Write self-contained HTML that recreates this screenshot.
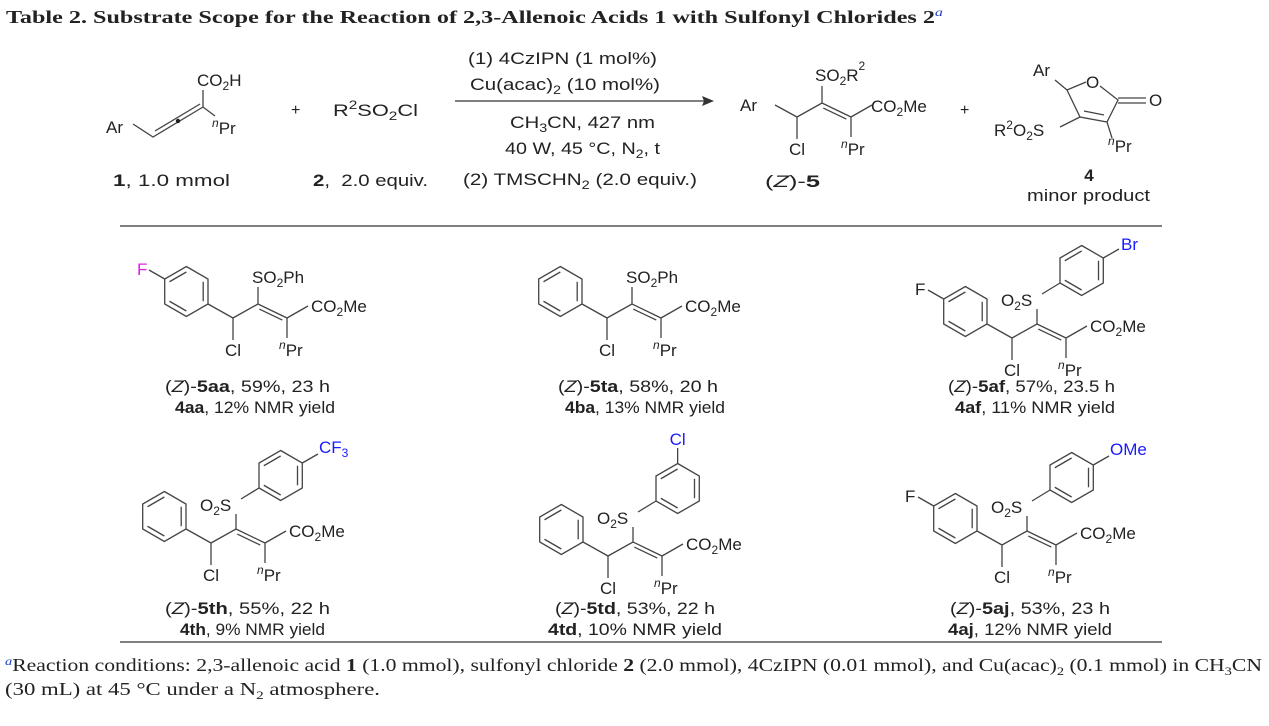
<!DOCTYPE html>
<html><head><meta charset="utf-8"><style>
html,body{margin:0;padding:0;background:#fff;}
svg{display:block;}
text{font-family:"Liberation Sans",sans-serif;font-size:16px;fill:#222;}
.c{font-size:17px;}
.s{stroke:#444;stroke-width:1.3;fill:none;}
.serif{font-family:"Liberation Serif",serif;}
</style></head><body>
<svg width="1269" height="726" viewBox="0 0 1269 726" xmlns="http://www.w3.org/2000/svg">
<text class="serif" x="6" y="23" textLength="937" lengthAdjust="spacingAndGlyphs" style="font-size:18px;font-weight:bold">Table 2. Substrate Scope for the Reaction of 2,3-Allenoic Acids 1 with Sulfonyl Chlorides 2<tspan dy="-7" font-size="12" font-style="italic" font-weight="normal" fill="#2040c0">a</tspan></text>

<!-- allene 1 -->
<path class="s" d="M133,124L153,137L203,107 M155,131L200,104 M203,107V90 M203,107L215,116"/>
<circle cx="178" cy="121" r="2.2" fill="#222"/>
<text x="106" y="133" class="c">Ar</text>
<text x="197" y="86" class="c">CO<tspan font-size="12" dy="4">2</tspan><tspan dy="-4">H</tspan></text>
<text x="212" y="134" class="c"><tspan font-size="12" font-style="italic" dy="-7">n</tspan><tspan dy="7">Pr</tspan></text>
<text x="291" y="115">+</text>
<text x="333" y="116" class="c" textLength="85" lengthAdjust="spacingAndGlyphs">R<tspan font-size="12" dy="-7">2</tspan><tspan dy="7">SO</tspan><tspan font-size="12" dy="4">2</tspan><tspan dy="-4">Cl</tspan></text>
<text x="113" y="186" class="c" textLength="117" lengthAdjust="spacingAndGlyphs"><tspan font-weight="bold">1</tspan>, 1.0 mmol</text>
<text x="313" y="186" class="c" textLength="115" lengthAdjust="spacingAndGlyphs"><tspan font-weight="bold">2</tspan>, &#160;2.0 equiv.</text>

<!-- arrow -->
<line x1="455" y1="101" x2="708" y2="101" stroke="#333" stroke-width="1.3"/>
<path d="M714,101L702,96L704,101L702,106Z" fill="#333"/>
<text x="468" y="64" class="c" textLength="189" lengthAdjust="spacingAndGlyphs">(1) 4CzIPN (1 mol%)</text>
<text x="470" y="90" class="c" textLength="190" lengthAdjust="spacingAndGlyphs">Cu(acac)<tspan font-size="12" dy="4">2</tspan><tspan dy="-4"> (10 mol%)</tspan></text>
<text x="510" y="128" class="c" textLength="145" lengthAdjust="spacingAndGlyphs">CH<tspan font-size="12" dy="4">3</tspan><tspan dy="-4">CN, 427 nm</tspan></text>
<text x="505" y="154" class="c" textLength="155" lengthAdjust="spacingAndGlyphs">40 W, 45 °C, N<tspan font-size="12" dy="4">2</tspan><tspan dy="-4">, t</tspan></text>
<text x="463" y="185" class="c" textLength="234" lengthAdjust="spacingAndGlyphs">(2) TMSCHN<tspan font-size="12" dy="4">2</tspan><tspan dy="-4"> (2.0 equiv.)</tspan></text>

<!-- product 5 -->
<g transform="translate(797,117)">
<path class="s" d="M0,0V22 M0,0L25,-14L54,0 M26.3,-8.9L49.3,2.1 M54,0V20 M54,0L75,-12 M25,-14V-31 M0,0L-22,-12"/>
<text x="-57" y="-6" class="c">Ar</text>
<text x="-8" y="38" class="c">Cl</text>
<text x="44" y="38" class="c"><tspan font-size="12" font-style="italic" dy="-7">n</tspan><tspan dy="7">Pr</tspan></text>
<text x="74" y="-5" class="c">CO<tspan font-size="12" dy="4">2</tspan><tspan dy="-4">Me</tspan></text>
<text x="18" y="-36" class="c">SO<tspan font-size="12" dy="4">2</tspan><tspan dy="-4">R</tspan><tspan font-size="12" dy="-11">2</tspan></text>
</g>
<text x="765" y="187" class="c" textLength="55" lengthAdjust="spacingAndGlyphs">(<tspan font-style="italic">Z</tspan>)-<tspan font-weight="bold">5</tspan></text>
<text x="960" y="115">+</text>

<!-- furanone 4 -->
<path class="s" d="M1055,80L1067,90L1086,82 M1100,86L1118,100L1107,122L1080,117L1067,90 M1084,111L1104,115 M1118,98H1146 M1118,103H1146 M1107,122L1112,138 M1080,117L1060,127"/>
<text x="1033" y="76" class="c">Ar</text>
<text x="1086" y="88" class="c">O</text>
<text x="1149" y="106" class="c">O</text>
<text x="994" y="136" class="c">R<tspan font-size="12" dy="-7">2</tspan><tspan dy="7">O</tspan><tspan font-size="12" dy="4">2</tspan><tspan dy="-4">S</tspan></text>
<text x="1108" y="152" class="c"><tspan font-size="12" font-style="italic" dy="-7">n</tspan><tspan dy="7">Pr</tspan></text>
<text x="1089" y="181" text-anchor="middle" font-weight="bold" class="c">4</text>
<text x="1027" y="201" class="c" textLength="123" lengthAdjust="spacingAndGlyphs">minor product</text>

<line x1="120" y1="226" x2="1162" y2="226" stroke="#333" stroke-width="1.2"/>

<!-- 5aa -->
<g transform="translate(233,318)">
<path class="s" d="M0,0V22 M0,0L25,-14L54,0 M26.3,-8.9L49.3,2.1 M54,0V20 M54,0L75,-12 M25,-14V-31 M0,0L-25,-14"/>
<path class="s" d="M-46.65,-51.5L-25,-39L-25,-14L-46.65,-1.5L-68.3,-14L-68.3,-39Z M-63.5,-36.25L-46.65,-46 M-29.8,-36.25L-29.8,-16.75 M-46.65,-7L-63.5,-16.75 M-68.3,-39L-84,-48"/>
<text x="-96" y="-43" class="c" style="fill:#e020e0">F</text>
<text x="-8" y="38" class="c">Cl</text>
<text x="46" y="38" class="c"><tspan font-size="12" font-style="italic" dy="-7">n</tspan><tspan dy="7">Pr</tspan></text>
<text x="78" y="-6" class="c">CO<tspan font-size="12" dy="4">2</tspan><tspan dy="-4">Me</tspan></text>
<text x="19" y="-35" class="c">SO<tspan font-size="12" dy="4">2</tspan><tspan dy="-4">Ph</tspan></text>
</g>
<text x="165" y="392" class="c" textLength="165" lengthAdjust="spacingAndGlyphs">(<tspan font-style="italic">Z</tspan>)-<tspan font-weight="bold">5aa</tspan>, 59%, 23 h</text>
<text x="175" y="413" class="c" textLength="160" lengthAdjust="spacingAndGlyphs"><tspan font-weight="bold">4aa</tspan>, 12% NMR yield</text>

<!-- 5ta -->
<g transform="translate(607,318)">
<path class="s" d="M0,0V22 M0,0L25,-14L54,0 M26.3,-8.9L49.3,2.1 M54,0V20 M54,0L75,-12 M25,-14V-31 M0,0L-25,-14"/>
<path class="s" d="M-46.65,-51.5L-25,-39L-25,-14L-46.65,-1.5L-68.3,-14L-68.3,-39Z M-63.5,-36.25L-46.65,-46 M-29.8,-36.25L-29.8,-16.75 M-46.65,-7L-63.5,-16.75"/>
<text x="-8" y="38" class="c">Cl</text>
<text x="46" y="38" class="c"><tspan font-size="12" font-style="italic" dy="-7">n</tspan><tspan dy="7">Pr</tspan></text>
<text x="78" y="-6" class="c">CO<tspan font-size="12" dy="4">2</tspan><tspan dy="-4">Me</tspan></text>
<text x="19" y="-35" class="c">SO<tspan font-size="12" dy="4">2</tspan><tspan dy="-4">Ph</tspan></text>
</g>
<text x="558" y="392" class="c" textLength="160" lengthAdjust="spacingAndGlyphs">(<tspan font-style="italic">Z</tspan>)-<tspan font-weight="bold">5ta</tspan>, 58%, 20 h</text>
<text x="565" y="413" class="c" textLength="160" lengthAdjust="spacingAndGlyphs"><tspan font-weight="bold">4ba</tspan>, 13% NMR yield</text>

<!-- 5af -->
<g transform="translate(1012,338)">
<path class="s" d="M0,0V22 M0,0L25,-14L54,0 M26.3,-8.9L49.3,2.1 M54,0V20 M54,0L75,-12 M25,-14V-29 M0,0L-25,-14 M30,-44L48,-55"/>
<path class="s" d="M-46.65,-51.5L-25,-39L-25,-14L-46.65,-1.5L-68.3,-14L-68.3,-39Z M-63.5,-36.25L-46.65,-46 M-29.8,-36.25L-29.8,-16.75 M-46.65,-7L-63.5,-16.75 M-68.3,-39L-84,-48"/>
<path class="s" d="M69.65,-92.5L91.3,-80L91.3,-55L69.65,-42.5L48,-55L48,-80Z M52.8,-77.25L69.65,-87 M86.5,-77.25L86.5,-57.75 M69.65,-48L52.8,-57.75 M91.3,-80L107,-89"/>
<text x="-97" y="-43" class="c">F</text>
<text x="109" y="-88" class="c" style="fill:#1a1aff">Br</text>
<text x="-11" y="-32" class="c">O<tspan font-size="12" dy="4">2</tspan><tspan dy="-4">S</tspan></text>
<text x="-8" y="38" class="c">Cl</text>
<text x="46" y="38" class="c"><tspan font-size="12" font-style="italic" dy="-7">n</tspan><tspan dy="7">Pr</tspan></text>
<text x="78" y="-6" class="c">CO<tspan font-size="12" dy="4">2</tspan><tspan dy="-4">Me</tspan></text>
</g>
<text x="948" y="392" class="c" textLength="167" lengthAdjust="spacingAndGlyphs">(<tspan font-style="italic">Z</tspan>)-<tspan font-weight="bold">5af</tspan>, 57%, 23.5 h</text>
<text x="955" y="413" class="c" textLength="160" lengthAdjust="spacingAndGlyphs"><tspan font-weight="bold">4af</tspan>, 11% NMR yield</text>

<!-- 5th -->
<g transform="translate(211,543)">
<path class="s" d="M0,0V22 M0,0L25,-14L54,0 M26.3,-8.9L49.3,2.1 M54,0V20 M54,0L75,-12 M25,-14V-29 M0,0L-25,-14 M30,-44L48,-55"/>
<path class="s" d="M-46.65,-51.5L-25,-39L-25,-14L-46.65,-1.5L-68.3,-14L-68.3,-39Z M-63.5,-36.25L-46.65,-46 M-29.8,-36.25L-29.8,-16.75 M-46.65,-7L-63.5,-16.75"/>
<path class="s" d="M69.65,-92.5L91.3,-80L91.3,-55L69.65,-42.5L48,-55L48,-80Z M52.8,-77.25L69.65,-87 M86.5,-77.25L86.5,-57.75 M69.65,-48L52.8,-57.75 M91.3,-80L107,-89"/>
<text x="108" y="-90" class="c" style="fill:#1a1aff">CF<tspan font-size="12" dy="4">3</tspan></text>
<text x="-11" y="-32" class="c">O<tspan font-size="12" dy="4">2</tspan><tspan dy="-4">S</tspan></text>
<text x="-8" y="38" class="c">Cl</text>
<text x="46" y="38" class="c"><tspan font-size="12" font-style="italic" dy="-7">n</tspan><tspan dy="7">Pr</tspan></text>
<text x="78" y="-6" class="c">CO<tspan font-size="12" dy="4">2</tspan><tspan dy="-4">Me</tspan></text>
</g>
<text x="165" y="614" class="c" textLength="165" lengthAdjust="spacingAndGlyphs">(<tspan font-style="italic">Z</tspan>)-<tspan font-weight="bold">5th</tspan>, 55%, 22 h</text>
<text x="180" y="635" class="c" textLength="145" lengthAdjust="spacingAndGlyphs"><tspan font-weight="bold">4th</tspan>, 9% NMR yield</text>

<!-- 5td -->
<g transform="translate(608,556)">
<path class="s" d="M0,0V22 M0,0L25,-14L54,0 M26.3,-8.9L49.3,2.1 M54,0V20 M54,0L75,-12 M25,-14V-29 M0,0L-25,-14 M30,-44L48,-55"/>
<path class="s" d="M-46.65,-51.5L-25,-39L-25,-14L-46.65,-1.5L-68.3,-14L-68.3,-39Z M-63.5,-36.25L-46.65,-46 M-29.8,-36.25L-29.8,-16.75 M-46.65,-7L-63.5,-16.75"/>
<path class="s" d="M69.65,-92.5L91.3,-80L91.3,-55L69.65,-42.5L48,-55L48,-80Z M52.8,-77.25L69.65,-87 M86.5,-77.25L86.5,-57.75 M69.65,-48L52.8,-57.75 M69.65,-92.5V-108"/>
<text x="69.65" y="-111" text-anchor="middle" class="c" style="fill:#1a1aff">Cl</text>
<text x="-11" y="-32" class="c">O<tspan font-size="12" dy="4">2</tspan><tspan dy="-4">S</tspan></text>
<text x="-8" y="38" class="c">Cl</text>
<text x="46" y="38" class="c"><tspan font-size="12" font-style="italic" dy="-7">n</tspan><tspan dy="7">Pr</tspan></text>
<text x="78" y="-6" class="c">CO<tspan font-size="12" dy="4">2</tspan><tspan dy="-4">Me</tspan></text>
</g>
<text x="555" y="614" class="c" textLength="160" lengthAdjust="spacingAndGlyphs">(<tspan font-style="italic">Z</tspan>)-<tspan font-weight="bold">5td</tspan>, 53%, 22 h</text>
<text x="548" y="635" class="c" textLength="174" lengthAdjust="spacingAndGlyphs"><tspan font-weight="bold">4td</tspan>, 10% NMR yield</text>

<!-- 5aj -->
<g transform="translate(1002,545)">
<path class="s" d="M0,0V22 M0,0L25,-14L54,0 M26.3,-8.9L49.3,2.1 M54,0V20 M54,0L75,-12 M25,-14V-29 M0,0L-25,-14 M30,-44L48,-55"/>
<path class="s" d="M-46.65,-51.5L-25,-39L-25,-14L-46.65,-1.5L-68.3,-14L-68.3,-39Z M-63.5,-36.25L-46.65,-46 M-29.8,-36.25L-29.8,-16.75 M-46.65,-7L-63.5,-16.75 M-68.3,-39L-84,-48"/>
<path class="s" d="M69.65,-92.5L91.3,-80L91.3,-55L69.65,-42.5L48,-55L48,-80Z M52.8,-77.25L69.65,-87 M86.5,-77.25L86.5,-57.75 M69.65,-48L52.8,-57.75 M91.3,-80L107,-89"/>
<text x="-97" y="-43" class="c">F</text>
<text x="108" y="-90" class="c" style="fill:#1a1aff">OMe</text>
<text x="-11" y="-32" class="c">O<tspan font-size="12" dy="4">2</tspan><tspan dy="-4">S</tspan></text>
<text x="-8" y="38" class="c">Cl</text>
<text x="46" y="38" class="c"><tspan font-size="12" font-style="italic" dy="-7">n</tspan><tspan dy="7">Pr</tspan></text>
<text x="78" y="-6" class="c">CO<tspan font-size="12" dy="4">2</tspan><tspan dy="-4">Me</tspan></text>
</g>
<text x="950" y="614" class="c" textLength="160" lengthAdjust="spacingAndGlyphs">(<tspan font-style="italic">Z</tspan>)-<tspan font-weight="bold">5aj</tspan>, 53%, 23 h</text>
<text x="948" y="635" class="c" textLength="164" lengthAdjust="spacingAndGlyphs"><tspan font-weight="bold">4aj</tspan>, 12% NMR yield</text>

<line x1="120" y1="642" x2="1162" y2="642" stroke="#333" stroke-width="1.2"/>

<text class="serif" x="5" y="671" textLength="1257" lengthAdjust="spacingAndGlyphs" style="font-size:18px"><tspan font-size="12" font-style="italic" dy="-6" fill="#2040c0">a</tspan><tspan dy="6">Reaction conditions: 2,3-allenoic acid </tspan><tspan font-weight="bold">1</tspan> (1.0 mmol), sulfonyl chloride <tspan font-weight="bold">2</tspan> (2.0 mmol), 4CzIPN (0.01 mmol), and Cu(acac)<tspan font-size="12" dy="4">2</tspan><tspan dy="-4"> (0.1 mmol) in CH</tspan><tspan font-size="12" dy="4">3</tspan><tspan dy="-4">CN</tspan></text>
<text class="serif" x="5" y="695" textLength="375" lengthAdjust="spacingAndGlyphs" style="font-size:18px">(30 mL) at 45 °C under a N<tspan font-size="12" dy="4">2</tspan><tspan dy="-4"> atmosphere.</tspan></text>
</svg>
</body></html>
